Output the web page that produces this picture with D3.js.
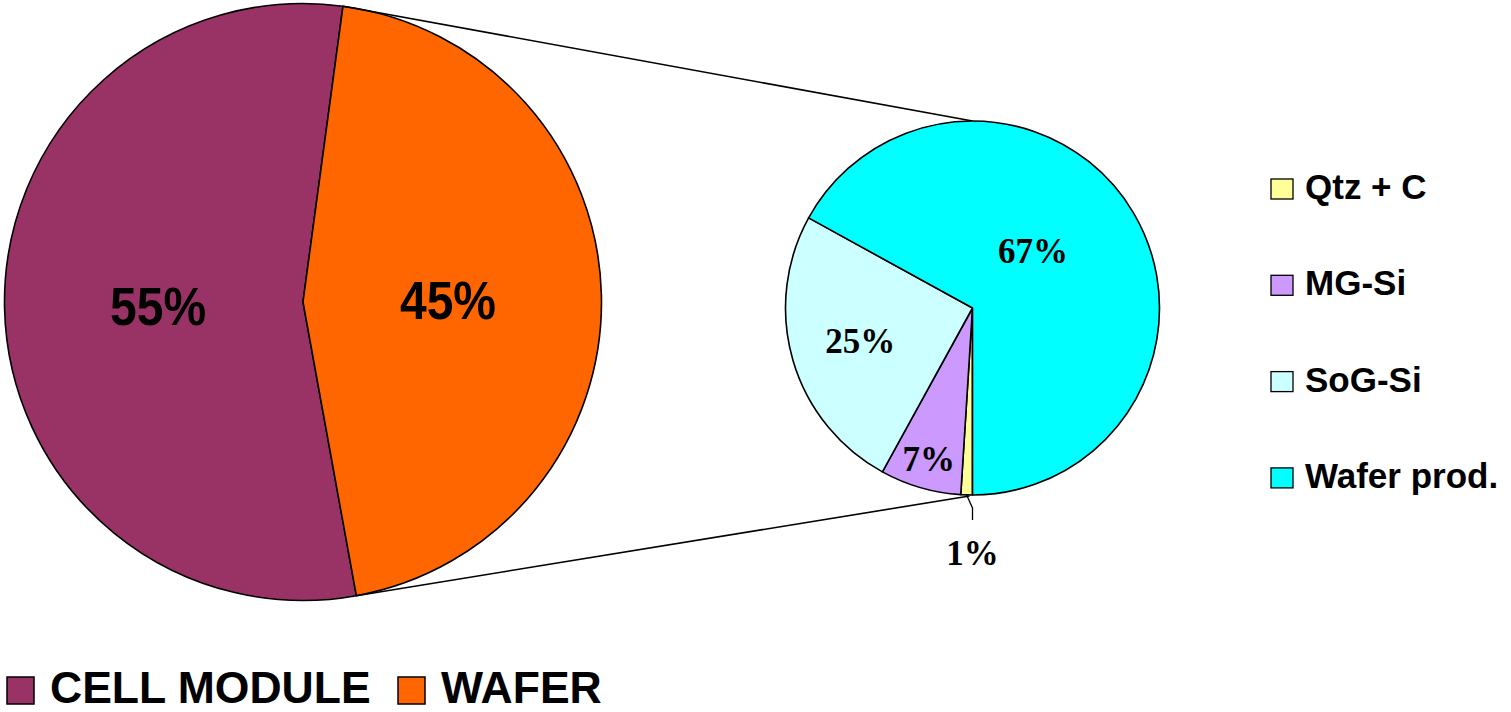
<!DOCTYPE html>
<html>
<head>
<meta charset="utf-8">
<script src="https://cdn.jsdelivr.net/npm/d3@7"></script>
<style>
  html, body { margin: 0; padding: 0; background: #fff; }
  svg { display: block; }
</style>
</head>
<body>
<svg id="chart" width="1511" height="712"></svg>
<script>
// ---- data ----
const mainCategories = ["CELL MODULE", "WAFER"];
const mainValues = [55, 45];
const mainColors = ["#993366", "#FF6600"];

const subCategories = ["Qtz + C", "MG-Si", "SoG-Si", "Wafer prod."];
const subValues = [1, 7, 25, 67];
const subColors = ["#FFFF99", "#CC99FF", "#CCFFFF", "#00FFFF"];

// ---- layout ----
const svg = d3.select("#chart");
const big = { cx: 303, cy: 302, r: 298.5 };
const small = { cx: 972.5, cy: 308, r: 187 };
const deg = Math.PI / 180;
const wafStart = 7.7 * deg;
const total = d3.sum(mainValues);

const bigPie = d3.pie().sort(null).value(d => d.v)
  .startAngle(wafStart - 2 * Math.PI * mainValues[0] / total)
  .endAngle(wafStart - 2 * Math.PI * mainValues[0] / total + 2 * Math.PI);
const bigData = bigPie(mainCategories.map((c, i) => ({ c, v: mainValues[i], col: mainColors[i] })));

const smallPie = d3.pie().sort(null).value(d => d.v)
  .startAngle(Math.PI).endAngle(3 * Math.PI);
const smallData = smallPie(subCategories.map((c, i) => ({ c, v: subValues[i], col: subColors[i] })));

const bigArc = d3.arc().innerRadius(0).outerRadius(big.r);
const smallArc = d3.arc().innerRadius(0).outerRadius(small.r);
const pt = (o, a, r) => [o.cx + r * Math.sin(a), o.cy - r * Math.cos(a)];

// big pie
const gBig = svg.append("g").attr("transform", `translate(${big.cx},${big.cy})`);
gBig.selectAll("path").data(bigData).join("path")
  .attr("d", bigArc).attr("fill", d => d.data.col)
  .attr("stroke", "#000").attr("stroke-width", 1.6).attr("stroke-linejoin", "round");

const bigLabelArc = d3.arc().innerRadius(145).outerRadius(145);
gBig.selectAll("text").data(bigData).join("text")
  .attr("transform", d => {
    const c = bigLabelArc.centroid(d);
    return `translate(${c[0]},${c[1] + 20}) scale(1,1.1)`;
  })
  .attr("text-anchor", "middle")
  .attr("font-family", "Liberation Sans, Arial, sans-serif")
  .attr("font-weight", "bold").attr("font-size", 48)
  .text(d => d3.format(".0%")(d.data.v / total));

// connector lines
const wafer = bigData[1];
const p1 = pt(big, wafer.startAngle, big.r);
const p2 = pt(big, wafer.endAngle, big.r);
svg.append("line").attr("x1", p1[0]).attr("y1", p1[1])
  .attr("x2", small.cx).attr("y2", small.cy - small.r)
  .attr("stroke", "#000").attr("stroke-width", 1.6);
svg.append("line").attr("x1", p2[0]).attr("y1", p2[1])
  .attr("x2", small.cx - 3).attr("y2", small.cy + small.r + 1)
  .attr("stroke", "#000").attr("stroke-width", 1.6);

// small pie
const gSmall = svg.append("g").attr("transform", `translate(${small.cx},${small.cy})`);
gSmall.selectAll("path").data(smallData).join("path")
  .attr("d", smallArc).attr("fill", d => d.data.col)
  .attr("stroke", "#000").attr("stroke-width", 1.6).attr("stroke-linejoin", "round");

const subTotal = d3.sum(subValues);
const labelPos = d => {
  const mid = (d.startAngle + d.endAngle) / 2;
  if (d.index === 3) return [60.5, -57];
  if (d.index === 2) return [Math.sin(mid) * 117, -Math.cos(mid) * 117];
  if (d.index === 1) return [Math.sin(mid) * 157, -Math.cos(mid) * 157];
  return [0, small.r + 70 - 12];
};
gSmall.selectAll("text").data(smallData).join("text")
  .attr("x", d => labelPos(d)[0])
  .attr("y", d => labelPos(d)[1] + 12)
  .attr("text-anchor", "middle")
  .attr("font-family", "Liberation Serif, Times New Roman, serif")
  .attr("font-weight", "bold").attr("font-size", 35)
  .text(d => d3.format(".0%")(d.data.v / subTotal));

// leader for smallest slice
const q = smallData[0];
const qm = (q.startAngle + q.endAngle) / 2;
const qp = [Math.sin(qm) * small.r, -Math.cos(qm) * small.r];
gSmall.append("path")
  .attr("d", d3.line()([[qp[0], qp[1]], [0, small.r + 13], [0, small.r + 25]]))
  .attr("fill", "none").attr("stroke", "#000").attr("stroke-width", 1.3);

// right legend
const legR = svg.append("g");
subCategories.forEach((c, i) => {
  const y = 199 + i * 96.3;
  legR.append("rect").attr("x", 1271).attr("y", y - 20).attr("width", 22).attr("height", 20)
    .attr("fill", subColors[i]).attr("stroke", "#000").attr("stroke-width", 1.3);
  legR.append("text").attr("x", 1305).attr("y", y)
    .attr("font-family", "Liberation Sans, Arial, sans-serif")
    .attr("font-weight", "bold").attr("font-size", 35)
    .text(c);
});

// bottom legend
const legB = svg.append("g");
const bx = [7, 398];
mainCategories.forEach((c, i) => {
  legB.append("rect").attr("x", bx[i]).attr("y", 677).attr("width", 27).attr("height", 27)
    .attr("fill", mainColors[i]).attr("stroke", "#000").attr("stroke-width", 1.5);
  legB.append("text").attr("transform", `translate(${bx[i] + 43},703) scale(1.06,1.04)`)
    .attr("font-family", "Liberation Sans, Arial, sans-serif")
    .attr("font-weight", "bold").attr("font-size", 42)
    .text(c);
});
</script>
</body>
</html>
